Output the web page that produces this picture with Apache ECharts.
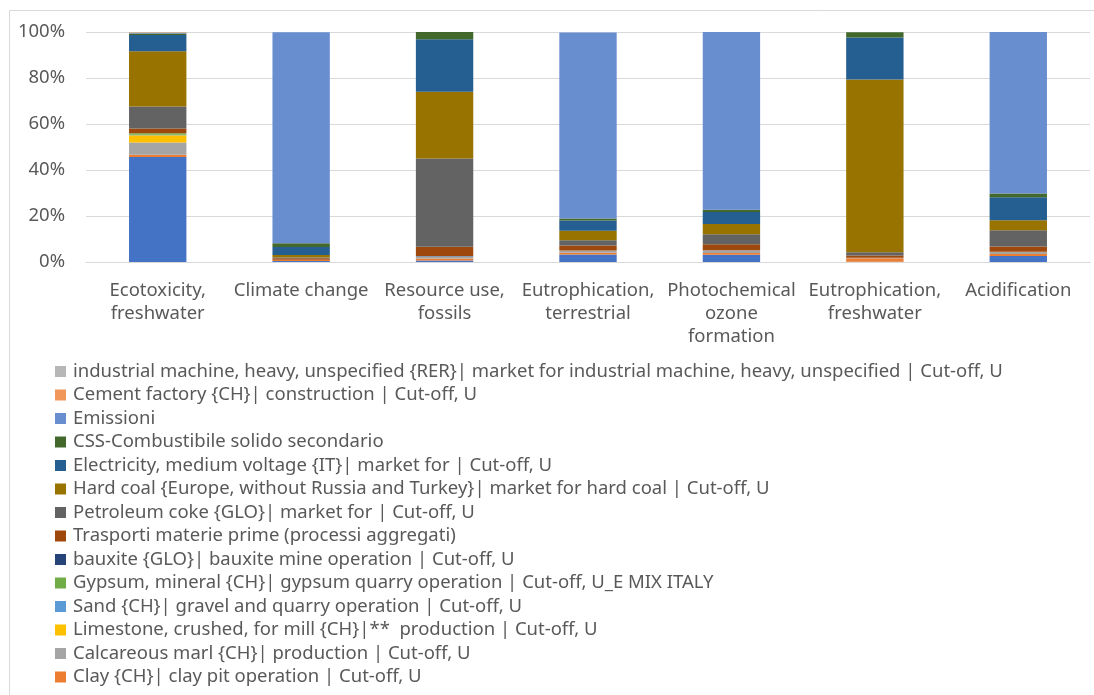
<!DOCTYPE html>
<html>
<head>
<meta charset="utf-8">
<script src="https://cdn.jsdelivr.net/npm/echarts@6/dist/echarts.min.js"></script>
<style>html,body{margin:0;padding:0;background:#fff}#c{width:1094px;height:695px}</style>
</head>
<body>
<div id="c"></div>
<script>
var categories = ["Ecotoxicity,\nfreshwater", "Climate change", "Resource use,\nfossils", "Eutrophication,\nterrestrial", "Photochemical\nozone\nformation", "Eutrophication,\nfreshwater", "Acidification"];
var yTicks = [0, 20, 40, 60, 80, 100];

// series, bottom of stack first (percent shares)
var sOther      = [45.6, 0.4, 0.7, 3.3, 3.2, 0.1, 2.6];
var sClay       = [1.0, 0.6, 0.8, 0.7, 0.7, 1.5, 0.9];
var sMarl       = [5.4, 0.0, 0.7, 1.0, 1.2, 0.3, 1.0];
var sLimestone  = [3.1, 0.0, 0.0, 0.0, 0.0, 0.0, 0.0];
var sSand       = [0.2, 0.0, 0.3, 0.0, 0.0, 0.0, 0.0];
var sGypsum     = [0.7, 0.0, 0.0, 0.0, 0.0, 0.0, 0.0];
var sBauxite    = [0.0, 0.0, 0.0, 0.0, 0.0, 0.0, 0.0];
var sTrasporti  = [2.0, 0.6, 4.1, 2.2, 2.6, 0.9, 2.2];
var sCoke       = [9.6, 0.4, 38.4, 2.3, 4.4, 1.4, 7.1];
var sHardCoal   = [24.0, 1.0, 29.0, 4.1, 4.4, 75.1, 4.4];
var sElectric   = [7.1, 3.5, 22.9, 4.4, 5.2, 18.3, 10.0];
var sCSS        = [0.7, 1.7, 3.1, 0.9, 1.0, 2.3, 1.6];
var sEmissioni  = [0.3, 91.7, 0.0, 80.9, 77.3, 0.0, 70.2];
var sCement     = [0.2, 0.0, 0.0, 0.0, 0.0, 0.0, 0.0];
var sMachine    = [0.1, 0.0, 0.0, 0.0, 0.0, 0.0, 0.0];

var names = [
  "Other",
  "Clay {CH}| clay pit operation | Cut-off, U",
  "Calcareous marl {CH}| production | Cut-off, U",
  "Limestone, crushed, for mill {CH}|**  production | Cut-off, U",
  "Sand {CH}| gravel and quarry operation | Cut-off, U",
  "Gypsum, mineral {CH}| gypsum quarry operation | Cut-off, U_E MIX ITALY",
  "bauxite {GLO}| bauxite mine operation | Cut-off, U",
  "Trasporti materie prime (processi aggregati)",
  "Petroleum coke {GLO}| market for | Cut-off, U",
  "Hard coal {Europe, without Russia and Turkey}| market for hard coal | Cut-off, U",
  "Electricity, medium voltage {IT}| market for | Cut-off, U",
  "CSS-Combustibile solido secondario",
  "Emissioni",
  "Cement factory {CH}| construction | Cut-off, U",
  "industrial machine, heavy, unspecified {RER}| market for industrial machine, heavy, unspecified | Cut-off, U"
];
var values = [sOther, sClay, sMarl, sLimestone, sSand, sGypsum, sBauxite, sTrasporti, sCoke, sHardCoal, sElectric, sCSS, sEmissioni, sCement, sMachine];
var colors = ["#4472C4", "#ED7D31", "#A5A5A5", "#FFC000", "#5B9BD5", "#70AD47", "#264478", "#9E480E", "#636363", "#997300", "#255E91", "#43682B", "#698ED0", "#F1975A", "#B7B7B7"];

var font = "Noto Sans";
var fs = 18.5;
var series = names.map(function (n, i) {
  return {
    name: n, type: 'bar', stack: 'total', barWidth: '40%',
    data: values[i],
    itemStyle: { color: colors[i] },
    emphasis: { disabled: true }
  };
});

var chart = echarts.init(document.getElementById('c'));
chart.setOption({
  animation: false,
  color: colors,
  graphic: [{ type: 'rect', shape: { x: 9.5, y: 10.5, width: 1200, height: 800 }, style: { fill: 'none', stroke: '#D9D9D9', lineWidth: 1 }, silent: true }],
  grid: { left: 86, right: 4, top: 32, bottom: 433, containLabel: false },
  xAxis: {
    type: 'category', data: categories,
    axisLine: { lineStyle: { color: '#D9D9D9' } },
    axisTick: { show: false },
    axisLabel: { color: '#595959', fontFamily: font, fontSize: fs, lineHeight: 23, margin: 17, interval: 0 }
  },
  yAxis: {
    type: 'value', min: yTicks[0], max: yTicks[yTicks.length - 1], interval: 20,
    axisLine: { show: false }, axisTick: { show: false },
    splitLine: { lineStyle: { color: '#D9D9D9' } },
    axisLabel: { color: '#595959', fontFamily: font, fontSize: fs, margin: 21, formatter: '{value}%' }
  },
  legend: {
    orient: 'vertical', left: 55, top: 361.5, padding: 0,
    data: names.slice(1).reverse(),
    icon: 'rect', itemWidth: 11, itemHeight: 11, itemGap: 3.5,
    selectedMode: false,
    textStyle: { color: '#595959', fontFamily: font, fontSize: fs, lineHeight: 20, padding: [0, 0, 0, 2] }
  },
  series: series
});
</script>
</body>
</html>
